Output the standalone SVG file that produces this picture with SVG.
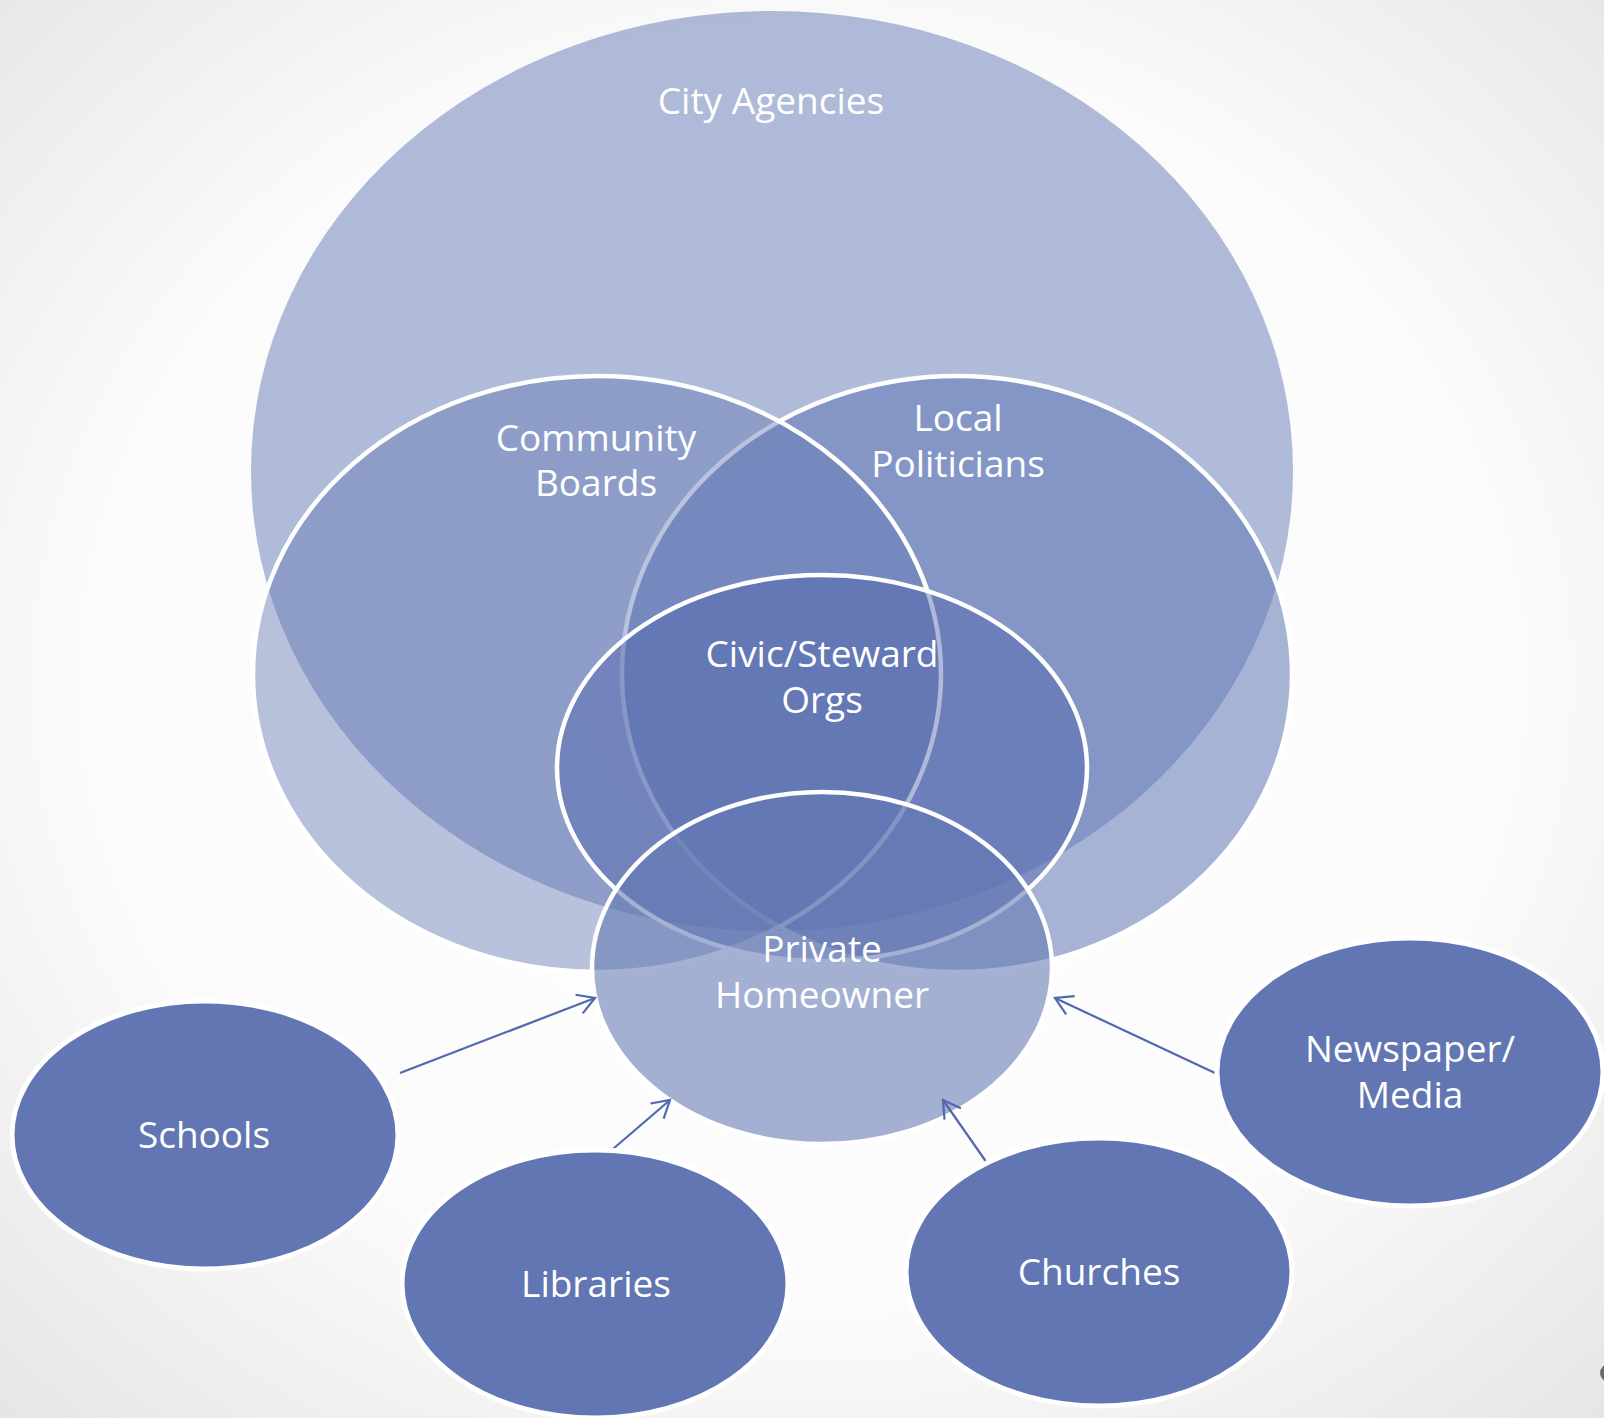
<svg xmlns="http://www.w3.org/2000/svg" width="1604" height="1418" viewBox="0 0 1604 1418">
<defs>
<radialGradient id="bg" cx="50%" cy="48%" r="74%">
<stop offset="0" stop-color="#ffffff"/>
<stop offset="0.6" stop-color="#fbfbfb"/>
<stop offset="1" stop-color="#e4e4e4"/>
</radialGradient>
<marker id="arr" markerUnits="userSpaceOnUse" markerWidth="40" markerHeight="40" viewBox="-20 -20 40 40" refX="0" refY="0" orient="auto">
<path d="M-17,-10 L0,0 L-17,10" fill="none" stroke="#5068b0" stroke-width="2.2"/>
</marker>
<style>
.t{font-family:"Open Sans","Noto Sans","Liberation Sans",sans-serif;font-size:37px;fill:#ffffff;text-anchor:middle}
.ring{stroke:#ffffff;stroke-width:4.5}
.node{fill:#6176b2;stroke:#ffffff;stroke-width:5}
.con{stroke:#5068b0;stroke-width:2.2;fill:none;marker-end:url(#arr)}
</style>
</defs>
<rect x="0" y="0" width="1604" height="1418" fill="url(#bg)"/>
<g id="city-agencies">
<ellipse cx="772" cy="471" rx="521" ry="460" fill="#6379b6" fill-opacity="0.5"/>
<text class="t" x="771" y="114">City Agencies</text>
</g>
<g id="local-politicians">
<ellipse class="ring" cx="957" cy="674" rx="335" ry="298" fill="#6279b5" fill-opacity="0.56"/>
</g>
<g id="community-boards">
<ellipse class="ring" cx="597" cy="674" rx="344" ry="298" fill="#6379b3" fill-opacity="0.45"/>
</g>
<g id="civic-steward-orgs">
<ellipse class="ring" cx="822" cy="768" rx="265" ry="193" fill="#5064aa" fill-opacity="0.45"/>
</g>
<g id="private-homeowner">
<ellipse class="ring" cx="822" cy="968" rx="230" ry="176" fill="#6379b3" fill-opacity="0.58"/>
</g>
<g id="labels">
<text class="t" x="596" y="451">Community</text>
<text class="t" x="596" y="496">Boards</text>
<text class="t" x="958" y="431">Local</text>
<text class="t" x="958" y="477">Politicians</text>
<text class="t" x="822" y="667">Civic/Steward</text>
<text class="t" x="822" y="713">Orgs</text>
<text class="t" x="822" y="962">Private</text>
<text class="t" x="822" y="1008">Homeowner</text>
</g>
<g id="connectors">
<line class="con" x1="400" y1="1073" x2="595" y2="998"/>
<line class="con" x1="592" y1="1167" x2="670" y2="1100"/>
<line class="con" x1="987" y1="1163" x2="943" y2="1100"/>
<line class="con" x1="1215" y1="1073" x2="1055" y2="998"/>
</g>
<g id="schools">
<ellipse class="node" cx="205" cy="1135" rx="193" ry="134"/>
<text class="t" x="204" y="1148">Schools</text>
</g>
<g id="libraries">
<ellipse class="node" cx="595" cy="1284" rx="193" ry="134"/>
<text class="t" x="596" y="1297">Libraries</text>
</g>
<g id="churches">
<ellipse class="node" cx="1099" cy="1272" rx="193" ry="134"/>
<text class="t" x="1099" y="1285">Churches</text>
</g>
<g id="newspaper-media">
<ellipse class="node" cx="1410" cy="1072" rx="193" ry="134"/>
<text class="t" x="1410" y="1062">Newspaper/</text>
<text class="t" x="1410" y="1108">Media</text>
</g>
<circle cx="1609" cy="1373" r="9" fill="#6b6b6b"/>
</svg>
